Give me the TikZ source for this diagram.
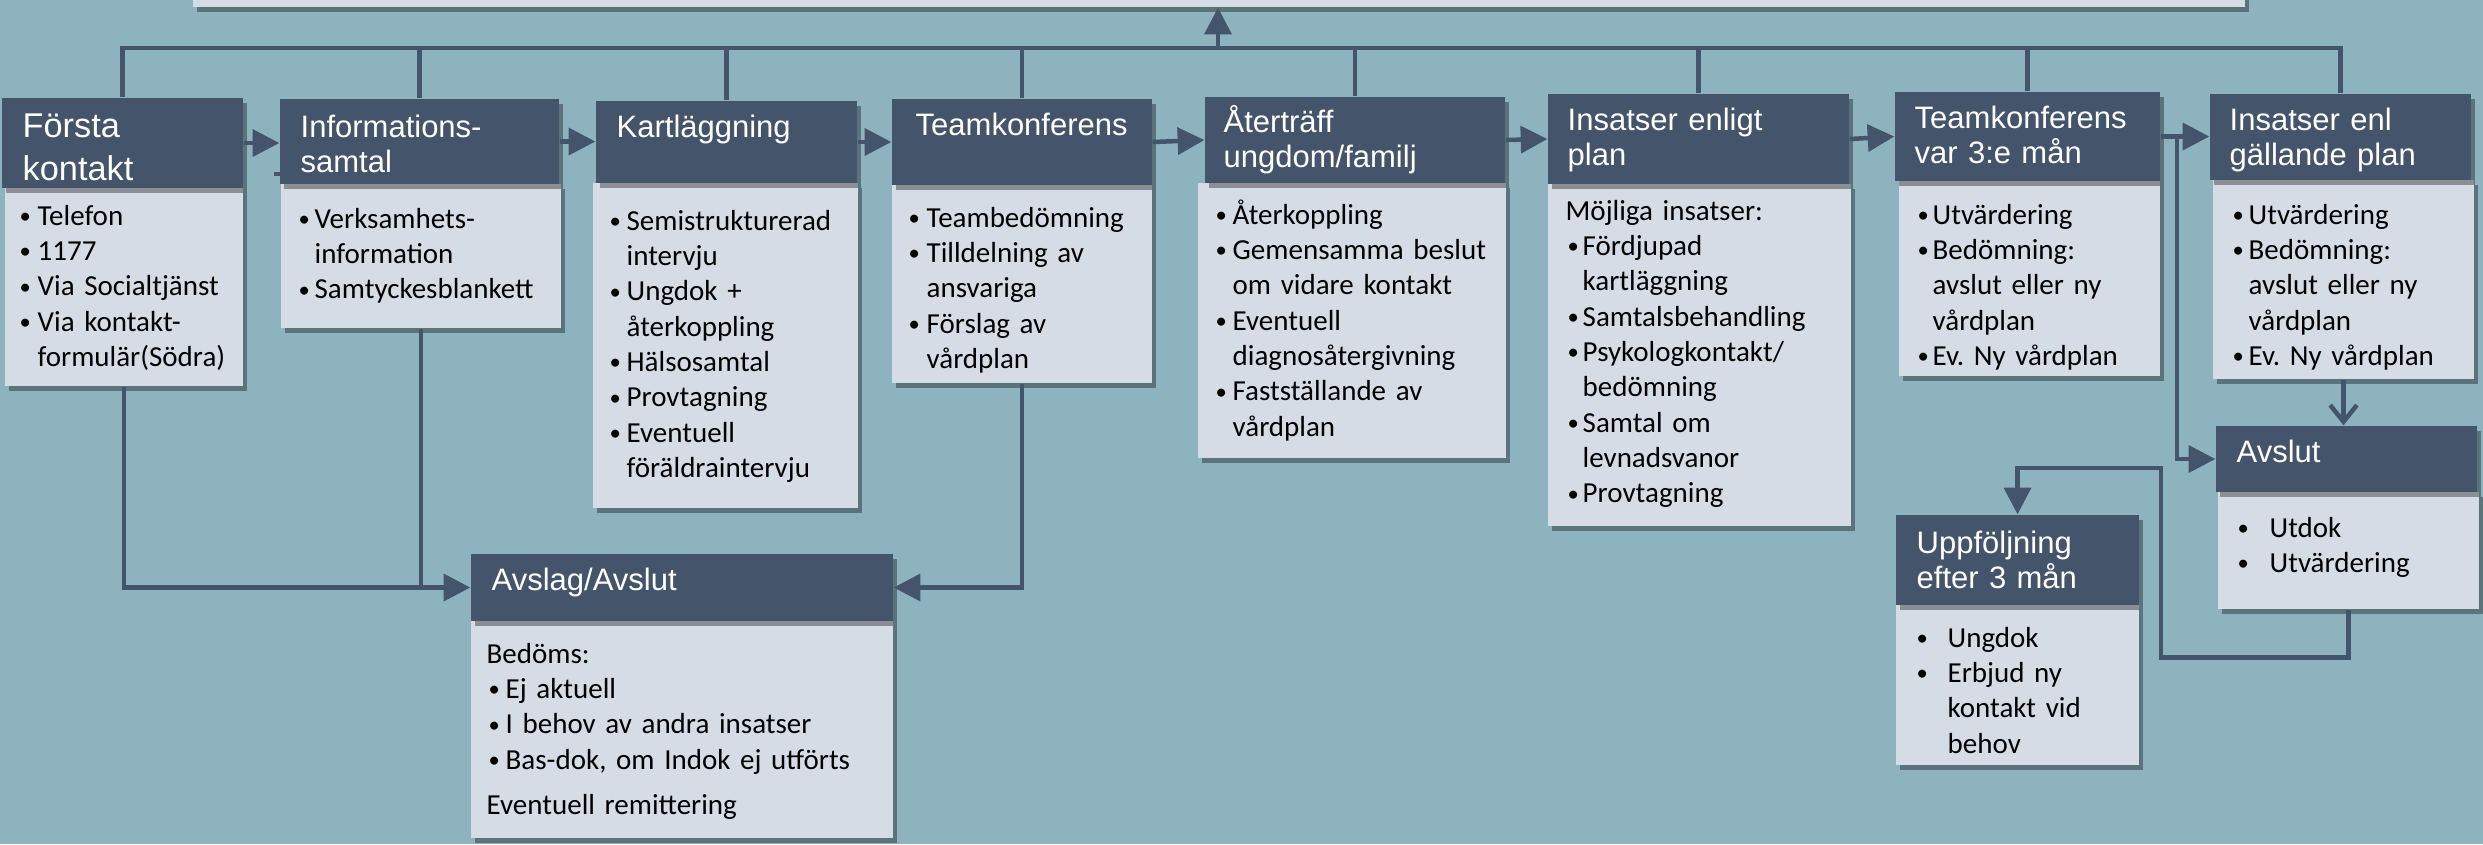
\documentclass[tikz,border=0pt]{standalone}
\usepackage{fontspec}
\setmainfont{Carlito}
\newfontfamily\hdfont{Liberation Sans}
\usetikzlibrary{arrows.meta,shadows,fit}
\definecolor{bg}{RGB}{141,179,191}
\definecolor{hdr}{RGB}{68,84,106}
\definecolor{bdy}{RGB}{214,220,229}
\newlength\bw
\newcommand\bul{\raisebox{0.12ex}{\scalebox{0.78}{\textbullet}}}
\newcommand\itm[1]{\noindent\hbox to\bw{\kern0.6pt\bul\hfil}#1\par}
\newcommand\cnt[1]{\noindent\hspace*{\bw}#1\par}
\newcommand\pln[1]{\noindent #1\par}
\begin{document}
\frenchspacing
\begin{tikzpicture}[x=0.3pt,y=-0.3pt,
  shd/.style={drop shadow={shadow xshift=1.2pt,shadow yshift=-1.5pt,opacity=0.35,fill=black}},
  hbox/.style={fit={#1},inner sep=0pt,fill=hdr,shd},
  bbox/.style={fit={#1},inner sep=0pt,fill=bdy,shd},
  htxt/.style={anchor=base west,inner sep=0pt,text width=250pt,align=left,text=white,font=\hdfont\fontsize{9.3pt}{10.5pt}\selectfont},
  btxt/.style={anchor=base west,inner sep=0pt,text width=200pt,align=left,text=black,font=\frenchspacing\fontsize{8.7pt}{10.6pt}\selectfont,execute at begin node={\setlength{\bw}{#1}}},
  btxt/.default=5.7pt,
  conn/.style={draw=hdr,line width=1.35pt},
  arr/.style={conn,-{Triangle[length=8pt,width=8pt]}},
  barb/.style={conn,-{Straight Barb[length=5pt,width=8pt]}}]
\useasboundingbox (0,0) rectangle (2483,844);
\clip (0,0) rectangle (2483,844);
\fill[bg] (0,0) rectangle (2483,844);

% top box
\node[bbox={(193,-40) (2245,7)}] (top) {};

% boxes: body first, then header
\node[bbox={(5,188) (243,386)}] (b1) {};
\node[hbox={(2,98) (243,188)}] (h1) {};
\node[bbox={(281,184) (561,328)}] (b2) {};
\node[hbox={(280,99) (559,184)}] (h2) {};
\node[bbox={(593,183) (858,508)}] (b3) {};
\node[hbox={(596,101) (857,183)}] (h3) {};
\node[bbox={(892,185) (1152,383)}] (b4) {};
\node[hbox={(892,99) (1152,185)}] (h4) {};
\node[bbox={(1198,183) (1506,458)}] (b5) {};
\node[hbox={(1205,97) (1505,183)}] (h5) {};
\node[bbox={(1548,184) (1851,526)}] (b6) {};
\node[hbox={(1548,94) (1849,184)}] (h6) {};
\node[bbox={(1899,181) (2160,376)}] (b7) {};
\node[hbox={(1895,92) (2160,181)}] (h7) {};
\node[bbox={(2213,180) (2474,379)}] (b8) {};
\node[hbox={(2210,94) (2471,180)}] (h8) {};
\node[bbox={(2218,492) (2479,609)}] (b9) {};
\node[hbox={(2216,426) (2477,492)}] (h9) {};
\node[bbox={(1896,605) (2139,765)}] (b10) {};
\node[hbox={(1896,515) (2139,605)}] (h10) {};
\node[bbox={(471,621) (893,838)}] (b11) {};
\node[hbox={(471,554) (893,621)}] (h11) {};

% connectors
\coordinate (bus) at (0,48);
\coordinate (up) at (1218,48);
\coordinate (j) at (2177,136.5);
\coordinate (k1) at (2161,468);
\draw[conn] (h1.north) -- (h1.north |- bus) -- (h8.north |- bus) -- (h8.north);
\foreach \n in {h2,h3,h4,h5,h6,h7} \draw[conn] (\n.north) -- (\n.north |- bus);
\draw[arr] (up) -- (up |- top.south);
\draw[arr] (h1.east) -- (h1.east -| h2.west);
\draw[arr] (h2.east) -- (h2.east -| h3.west);
\draw[arr] (h3.east) -- (h3.east -| h4.west);
\draw[arr] (h4.east) -- (h5.west);
\draw[arr] (h5.east) -- (h6.west);
\draw[arr] (h6.east) -- (h7.west);
\draw[arr] (h7.east) -- (h7.east -| h8.west);
\draw[arr] (j) |- (h9.west);
\draw[barb] (b8.south) -- (b8.south |- h9.north);
\draw[arr] (b9.south) -- ++(0,48) -| (k1) -| (h10.north);
\draw[arr] (b1.south) |- (h11.west);
\draw[conn] (b2.south) -- (b2.south |- h11.west);
\draw[arr] (b4.south) |- (h11.east);
\draw[conn] (274,174) -- (282,174);

% header texts
\node[htxt,font=\hdfont\fontsize{10.3pt}{12.9pt}\selectfont] (t1) at (22,137) {Första\\kontakt};
\node[htxt] (t2) at (300,137) {Informations-\\samtal};
\node[htxt] (t3) at (616,137) {Kartläggning};
\node[htxt] (t4) at (915,135) {Teamkonferens};
\node[htxt] (t5) at (1223,132) {Återträff\\ungdom/familj};
\node[htxt] (t6) at (1567,130) {Insatser enligt\\plan};
\node[htxt] (t7) at (1914,128) {Teamkonferens\\var 3:e mån};
\node[htxt] (t8) at (2229,130) {Insatser enl\\gällande plan};
\node[htxt] (t9) at (2236,462) {Avslut};
\node[htxt] (t10) at (1916,553) {Uppföljning\\efter 3 mån};
\node[htxt] (t11) at (491,590) {Avslag/Avslut};

% body texts
\node[btxt=6pt] (u1) at (17,225) {\itm{Telefon}\itm{1177}\itm{Via Socialtjänst}\itm{Via kontakt-}\cnt{formulär(Södra)}};
\node[btxt=5.4pt] (u2) at (296,228) {\itm{Verksamhets-}\cnt{information}\itm{Samtyckesblankett}};
\node[btxt=5.7pt] (u3) at (607,230) {\itm{Semistrukturerad}\cnt{intervju}\itm{Ungdok +}\cnt{återkoppling}\itm{Hälsosamtal}\itm{Provtagning}\itm{Eventuell}\cnt{föräldraintervju}};
\node[btxt=6pt] (u4) at (906,227) {\itm{Teambedömning}\itm{Tilldelning av}\cnt{ansvariga}\itm{Förslag av}\cnt{vårdplan}};
\node[btxt=5.7pt] (u5) at (1213,224) {\itm{Återkoppling}\itm{Gemensamma beslut}\cnt{om vidare kontakt}\itm{Eventuell}\cnt{diagnosåtergivning}\itm{Fastställande av}\cnt{vårdplan}};
\node[btxt=5.1pt] (u6) at (1565,220) {\pln{Möjliga insatser:}\itm{Fördjupad}\cnt{kartläggning}\itm{Samtalsbehandling}\itm{Psykologkontakt/}\cnt{bedömning}\itm{Samtal om}\cnt{levnadsvanor}\itm{Provtagning}};
\node[btxt=5.1pt] (u7) at (1915,224) {\itm{Utvärdering}\itm{Bedömning:}\cnt{avslut eller ny}\cnt{vårdplan}\itm{Ev. Ny vårdplan}};
\node[btxt=5.4pt] (u8) at (2230,224) {\itm{Utvärdering}\itm{Bedömning:}\cnt{avslut eller ny}\cnt{vårdplan}\itm{Ev. Ny vårdplan}};
\node[btxt=10.2pt] (u9) at (2235,537) {\itm{Utdok}\itm{Utvärdering}};
\node[btxt=9.9pt] (u10) at (1914,647) {\itm{Ungdok}\itm{Erbjud ny}\cnt{kontakt vid}\cnt{behov}};
\node[btxt=5.7pt] (u11) at (486,663) {\pln{Bedöms:}\itm{Ej aktuell}\itm{I behov av andra insatser}\itm{Bas-dok, om Indok ej utförts}\vspace{3pt}\pln{Eventuell remittering}};
\end{tikzpicture}
\end{document}
